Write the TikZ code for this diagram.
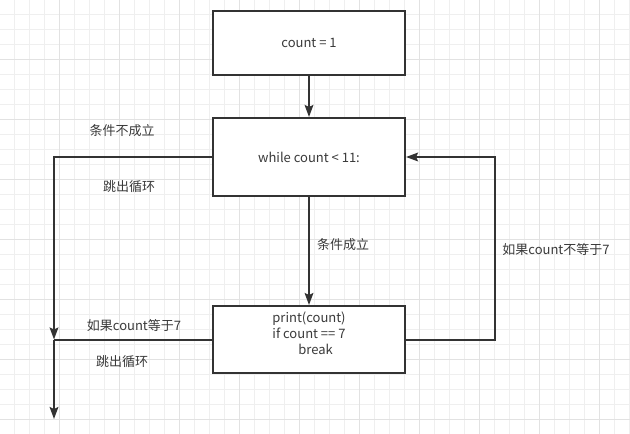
\documentclass[tikz,border=0pt]{standalone}
\usepackage{fontspec}
\setmainfont{Noto Sans CJK SC}
\usepackage{xcolor}
\usepackage{tikz}
\usetikzlibrary{arrows.meta}
\definecolor{linegray}{HTML}{333333}
\definecolor{textgray}{HTML}{3A3A3A}
\definecolor{gridminor}{HTML}{EFEFEF}
\definecolor{gridmajor}{HTML}{E2E2E2}

\begin{document}
\begin{tikzpicture}[x=0.75pt,y=-0.75pt,
  font=\fontsize{9.75pt}{12pt}\selectfont, text=textgray,
  box/.style={draw=linegray, fill=white, line width=1.5pt, minimum width=144pt, inner sep=0pt},
  edge/.style={draw=linegray, line width=1.5pt},
  arrowline/.style={edge, -{Stealth[length=9pt,width=6.5pt,inset=1.5pt]}},
  tag/.style={inner sep=1pt}]
\useasboundingbox (0,0) rectangle (630,434);
\fill[white] (0,0) rectangle (630,434);
% grid
\foreach \g in {14.5,29.5,...,629.5} \draw[gridminor, line width=0.75pt] (\g,0) -- (\g,434);
\foreach \g in {14.5,29.5,...,419.5} \draw[gridminor, line width=0.75pt] (0,\g) -- (630,\g);
\foreach \g in {59.5,119.5,...,599.5} \draw[gridmajor, line width=0.75pt] (\g,0) -- (\g,434);
\foreach \g in {59.5,119.5,...,419.5} \draw[gridmajor, line width=0.75pt] (0,\g) -- (630,\g);

% boxes
\node[box, minimum height=48pt] (init) at (309,43) {count = 1};
\node[box, minimum height=58.5pt] (loop) at (309,157) {while count < 11:};
\node[box, minimum height=50.25pt] (body) at (309,339.5) {};
\node[align=center, inner sep=0pt] (bodytext) at ([yshift=5pt]body.center) {print(count)\\if count == 7\\\hspace*{10pt}break};

\coordinate (leftrail) at (54,0);
\coordinate (rightrail) at (495,0);
\coordinate (join) at (body.west -| leftrail);
\coordinate (exit) at (54,419);

% connectors
\draw[arrowline] (init) -- (loop);
\draw[arrowline] (loop) -- (body);
\draw[arrowline] (loop.west) -| (join);
\draw[arrowline] (join) -- (exit);
\draw[edge] (body.west) -- (join);
\draw[arrowline] (body.east) -- (body.east -| rightrail) -- (loop.east -| rightrail) -- (loop.east);

% labels
\node[tag] (nofit) at (122,131) {条件不成立};
\node[tag] (quit1) at (129,187) {跳出循环};
\node[tag] (fit) at (343,245) {条件成立};
\node[tag] (equal) at (134,326) {如果count等于7};
\node[tag] (quit2) at (122,362) {跳出循环};
\node[tag] (notequal) at (556,250) {如果count不等于7};
\end{tikzpicture}
\end{document}
